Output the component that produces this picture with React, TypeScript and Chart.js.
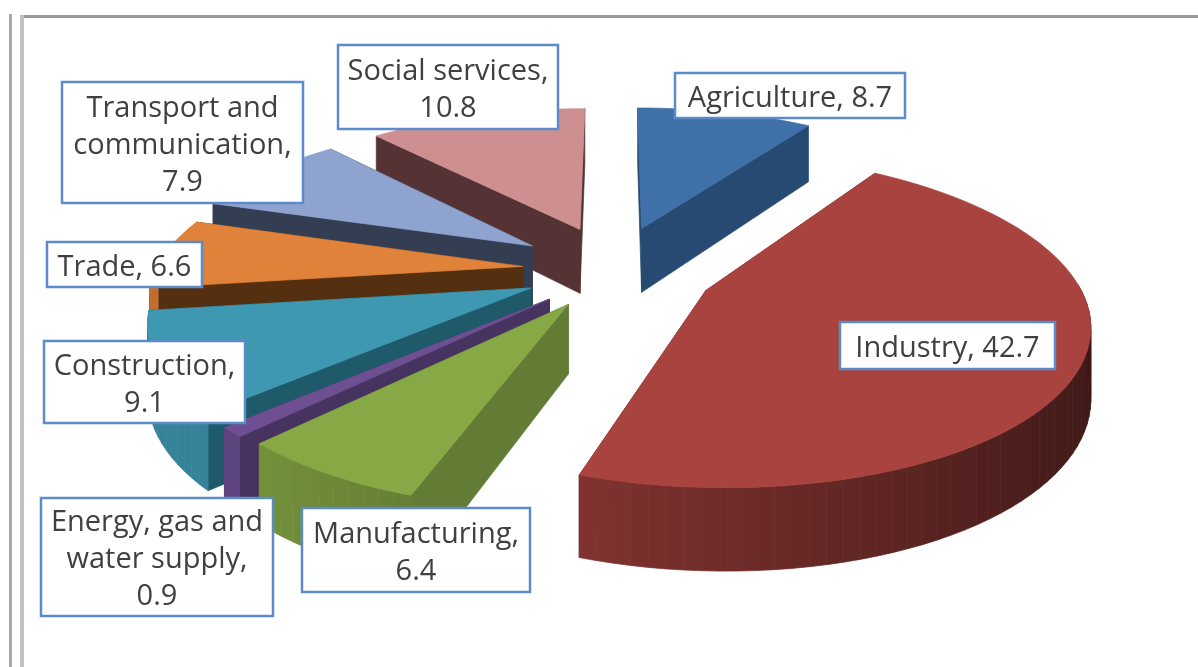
import React, { useEffect, useRef } from "react";
import { Chart, registerables } from "chart.js";

Chart.register(...registerables);

const categories = ["Agriculture", "Industry", "Manufacturing", "Energy, gas and water supply", "Construction", "Trade", "Transport and communication", "Social services"];
const values = [8.7, 42.7, 6.4, 0.9, 9.1, 6.6, 7.9, 10.8];
const topColors = ["#3f70a8", "#a9433f", "#86a845", "#6d4f92", "#3f98b2", "#e0823a", "#8fa3d0", "#cd8f90"];
const wallColors = ["#264a72", "#6e2a28", "#627c36", "#46335f", "#1f5a6a", "#542f10", "#333e52", "#553334"];
const explode = [100, 100, 85, 88, 90, 92, 100, 100];
const labelLines = [
  ["Agriculture, 8.7"],
  ["Industry, 42.7"],
  ["Manufacturing,", "6.4"],
  ["Energy, gas and", "water supply,", "0.9"],
  ["Construction,", "9.1"],
  ["Trade, 6.6"],
  ["Transport and", "communication,", "7.9"],
  ["Social services,", "10.8"],
];
const labelBoxes = [
  [675, 73, 905, 118],
  [840, 322, 1055, 369],
  [302, 508, 530, 592],
  [41, 498, 273, 616],
  [44, 341, 245, 423],
  [47, 242, 202, 287],
  [62, 82, 303, 203],
  [338, 45, 558, 129],
];
const drawOrder = [0, 7, 6, 5, 4, 3, 2, 1];

const CX = 614, CY = 270, RADIUS_X = 367, RADIUS_Y = 340, SQUASH = 0.455, PERSP = 0.000513, DEPTH = 67;

type P = [number, number];
const project = (X: number, Y: number, z: number): P => {
  const f = 1 / (1 - PERSP * Y);
  return [CX + X * f, CY + SQUASH * Y * f + z * f];
};
const shadeColor = (hex: string, k: number) => {
  const n = parseInt(hex.slice(1), 16);
  const c = [(n >> 16) & 255, (n >> 8) & 255, n & 255].map((v) => Math.round(v * k));
  return `rgb(${c[0]},${c[1]},${c[2]})`;
};
const poly = (ctx: CanvasRenderingContext2D, pts: P[], fill: string) => {
  ctx.beginPath();
  pts.forEach((p, i) => (i ? ctx.lineTo(p[0], p[1]) : ctx.moveTo(p[0], p[1])));
  ctx.closePath();
  ctx.fillStyle = fill;
  ctx.strokeStyle = fill;
  ctx.lineWidth = 0.7;
  ctx.fill();
  ctx.stroke();
};

const solidPie = {
  id: "solidPie",
  beforeDatasetsDraw(chart: any) {
    const ctx: CanvasRenderingContext2D = chart.ctx;
    const meta = chart.getDatasetMeta(0);
    ctx.save();
    drawOrder.forEach((i) => {
      const el = meta.data[i];
      const a0 = el.startAngle, a1 = el.endAngle, mid = (a0 + a1) / 2;
      const off = el.options.offset;
      const ox = Math.cos(mid) * off, oy = Math.sin(mid) * off;
      const steps = Math.max(4, Math.ceil((a1 - a0) / 0.04));
      const rim: P[] = [];
      const rimRaw: P[] = [];
      for (let s = 0; s <= steps; s++) {
        const a = a0 + ((a1 - a0) * s) / steps;
        rimRaw.push([ox + Math.cos(a) * RADIUS_X, oy + Math.sin(a) * RADIUS_Y]);
      }
      rimRaw.forEach((p) => rim.push(project(p[0], p[1], 0)));
      const apexT = project(ox, oy, 0), apexB = project(ox, oy, DEPTH);
      const r0 = rimRaw[0], r1 = rimRaw[steps];
      const walls = [
        { y: (apexT[1] + rim[0][1]) / 2, pts: [apexT, rim[0], project(r0[0], r0[1], DEPTH), apexB], c: wallColors[i] },
        { y: (apexT[1] + rim[steps][1]) / 2, pts: [apexT, rim[steps], project(r1[0], r1[1], DEPTH), apexB], c: wallColors[i] },
      ];
      walls.sort((a, b) => a.y - b.y).forEach((w) => poly(ctx, w.pts as P[], w.c));
      for (let s = 0; s < steps; s++) {
        const a = a0 + ((a1 - a0) * (s + 0.5)) / steps;
        if (Math.sin(a) < -0.02) continue;
        const k = Math.min(0.86, 0.66 - 0.3 * Math.cos(a));
        const p = rimRaw[s], q = rimRaw[s + 1];
        poly(ctx, [project(p[0], p[1], 0), project(q[0], q[1], 0), project(q[0], q[1], DEPTH), project(p[0], p[1], DEPTH)], shadeColor(topColors[i], k));
      }
      poly(ctx, [apexT, ...rim], topColors[i]);
    });
    ctx.restore();
    return false;
  },
};

const frameAndLabels = {
  id: "frameAndLabels",
  beforeDraw(chart: any) {
    const ctx: CanvasRenderingContext2D = chart.ctx;
    ctx.save();
    ctx.fillStyle = "#ffffff";
    ctx.fillRect(0, 0, chart.width, chart.height);
    ctx.fillStyle = "#9a9a9a";
    ctx.fillRect(20, 15, chart.width - 20, 3);
    ctx.fillStyle = "#a8a8a8";
    ctx.fillRect(9, 14, 3, chart.height - 14);
    ctx.fillStyle = "#c2c2c2";
    ctx.fillRect(20, 15, 4, chart.height - 15);
    ctx.restore();
  },
  afterDraw(chart: any) {
    const ctx: CanvasRenderingContext2D = chart.ctx;
    ctx.save();
    ctx.font = '29px "Open Sans"';
    ctx.textAlign = "center";
    ctx.textBaseline = "middle";
    labelBoxes.forEach((b, i) => {
      const [x0, y0, x1, y1] = b;
      ctx.fillStyle = "#ffffff";
      ctx.fillRect(x0, y0, x1 - x0, y1 - y0);
      ctx.strokeStyle = "#5b8cc8";
      ctx.lineWidth = 2.5;
      ctx.strokeRect(x0, y0, x1 - x0, y1 - y0);
      ctx.fillStyle = "#404040";
      const lines = labelLines[i];
      const lh = 37;
      const top = (y0 + y1) / 2 - ((lines.length - 1) * lh) / 2 + 3;
      lines.forEach((t, j) => ctx.fillText(t, (x0 + x1) / 2, top + j * lh));
    });
    ctx.restore();
  },
};

export default function App() {
  const ref = useRef<HTMLCanvasElement>(null);
  useEffect(() => {
    const chart = new Chart(ref.current!, {
      type: "pie",
      data: {
        labels: categories,
        datasets: [{ data: values, backgroundColor: topColors, offset: explode, borderWidth: 0 }],
      },
      options: {
        animation: false,
        responsive: false,
        events: [],
        plugins: { legend: { display: false }, tooltip: { enabled: false } },
      },
      plugins: [frameAndLabels, solidPie],
    } as any);
    return () => chart.destroy();
  }, []);
  return (
    <canvas
      ref={ref}
      width={1198}
      height={667}
      style={{ position: "fixed", left: 0, top: 0, width: 1198, height: 667, filter: "blur(0.6px)" }}
    />
  );
}
